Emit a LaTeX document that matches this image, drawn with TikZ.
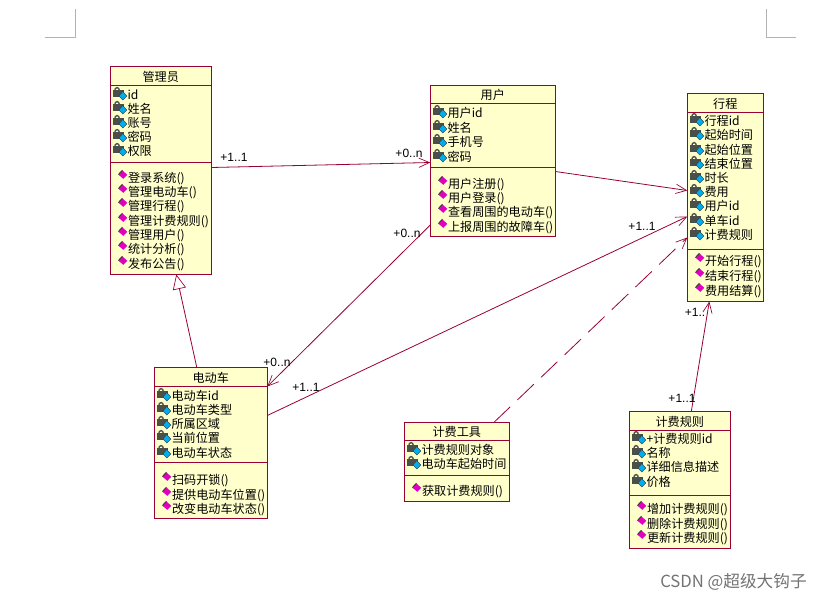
\documentclass[tikz,border=0pt]{standalone}
\usepackage{fontspec}
\setmainfont{Noto Sans CJK SC}
\newfontfamily\multfont{Liberation Sans}
\usetikzlibrary{arrows.meta}
\definecolor{umlline}{HTML}{990033}
\definecolor{umlfill}{HTML}{FFFFCC}
\definecolor{lockgray}{HTML}{4A4F4A}
\definecolor{methmag}{HTML}{E000C0}
\tikzset{
  px/.style={x=0.75pt,y=-0.75pt},
  classbox/.style={draw=umlline,fill=umlfill,line width=0.8pt,anchor=north west,inner sep=0pt,outer sep=0pt},
  divider/.style={draw=umlline,line width=0.8pt},
  titletext/.style={font=\fontsize{9.1}{10}\selectfont,inner sep=0pt,text=black},
  rowtext/.style={font=\fontsize{9.1}{10}\selectfont,inner sep=0pt,anchor=west,text=black},
  assoc/.style={draw=umlline,line width=0.6pt,-{Straight Barb[length=8pt,width=7pt,line width=0.5pt]}},
  depend/.style={assoc,dash pattern=on 17pt off 7.5pt},
  inherit/.style={draw=umlline,line width=0.6pt,-{Triangle[open,fill=white,length=11pt,width=10pt,line width=0.5pt]}},
  mult/.style={font=\multfont\fontsize{9}{10}\selectfont,inner sep=0pt,text=black},
  cropmark/.style={draw=black!30,line width=0.5pt},
}
% #1 x, #2 y: the private-attribute icon
\newcommand{\attricon}[2]{%
  \draw[lockgray,line width=1pt] (#1-3.5,#2-3) arc (180:0:1.7pt and 2.2pt);
  \path[fill=lockgray,draw=lockgray,line width=0.3pt] (#1-5.5,#2-3) rectangle (#1+4.5,#2+2.5);
  \path[fill=cyan,draw=black!80,line width=0.3pt] (#1+4.5,#2-2) -- (#1+8.5,#2+2.5) -- (#1+4.5,#2+6.5) -- (#1+0.5,#2+2.5) -- cycle;
}
% #1 x, #2 y: the method icon
\newcommand{\methicon}[2]{%
  \path[fill=methmag] (#1,#2-4.3) -- (#1+5,#2+0.4) -- (#1+1,#2+4.3) -- (#1-4,#2) -- cycle;
  \draw[green!30!black,line width=0.5pt] (#1-4,#2) -- (#1,#2-4.3);
}
% name, x1, y1, x2, y2, title, title line y, divider y, attribute rows
\newcommand{\umlclass}[9]{%
  \node[classbox,minimum width={(#4-#2)*0.75pt},minimum height={(#5-#3)*0.75pt}] (#1) at (#2,#3) {};
  \node[titletext] (#1-title) at ({(#2+#4)/2},{(#3+#7)/2+0.5}) {#6};
  \draw[divider] (#2,#7) -- (#4,#7);
  \draw[divider] (#2,#8) -- (#4,#8);
  \def\classleft{#2}\def\classname{#1}%
  \umlrows{#9}%
}
\newcommand{\umlrows}[1]{%
  \foreach \ry/\rt [count=\ri] in {#1}{%
    \attricon{\classleft+8}{\ry-1}
    \node[rowtext] (\classname-a\ri) at (\classleft+17,\ry+0.5) {\rt};
  }%
}
\newcommand{\umlmethods}[3]{%
  \foreach \ry/\rt [count=\ri] in {#3}{%
    \methicon{#2+12}{\ry-4}
    \node[rowtext] (#1-m\ri) at (#2+17.5,\ry+0.5) {\rt};
  }%
}
\begin{document}
\begin{tikzpicture}[px]
\useasboundingbox (0,0) rectangle (821,601);
\fill[white] (0,0) rectangle (821,601);
% page corner marks
\coordinate (c1) at (45,37); \coordinate (c2) at (75,37); \coordinate (c3) at (75,9);
\coordinate (c4) at (796,37); \coordinate (c5) at (766,37); \coordinate (c6) at (766,9);
\draw[cropmark] (c1) -- (c2) -- (c3);
\draw[cropmark] (c4) -- (c5) -- (c6);

\begin{scope}[shift={(-0.7,-0.5)}]
\umlclass{admin}{111}{67}{212}{275}{管理员}{86}{163}{95/id,109/姓名,123/账号,137/密码,151/权限}
\umlmethods{admin}{111}{179/登录系统(),193/管理电动车(),207/管理行程(),222/管理计费规则(),236/管理用户(),250/统计分析(),265/发布公告()}

\umlclass{user}{431}{86}{556}{237}{用户}{104}{168}{113/用户id,128/姓名,142/手机号,157/密码}
\umlmethods{user}{431}{185/用户注册(),199/用户登录(),213/查看周围的电动车(),228/上报周围的故障车()}

\umlclass{trip}{688}{94}{764}{302}{行程}{113}{250}{121/行程id,135/起始时间,150/起始位置,164/结束位置,178/时长,192/费用,206/用户id,221/单车id,235/计费规则}
\umlmethods{trip}{688}{262/开始行程(),277/结束行程(),292/费用结算()}

\umlclass{bike}{155}{368}{268}{519}{电动车}{387}{463}{396/电动车id,410/电动车类型,424/所属区域,438/当前位置,453/电动车状态}
\umlmethods{bike}{155}{481/扫码开锁(),496/提供电动车位置(),510/改变电动车状态()}

\umlclass{tool}{405}{423}{510}{502}{计费工具}{441}{476}{450/计费规则对象,464/电动车起始时间}
\umlmethods{tool}{405}{492/获取计费规则()}

\umlclass{rule}{630}{412}{731}{549}{计费规则}{431}{496}{439/+计费规则id,453/名称,467/详细信息描述,482/价格}
\umlmethods{rule}{630}{510/增加计费规则(),525/删除计费规则(),539/更新计费规则()}

% connectors
\draw[assoc] ([shift={(0,-3)}]admin.east) -- ([shift={(0,1.5)}]user.west);
\draw[assoc] ([shift={(0,10.5)}]user.east) -- ([shift={(0,-7)}]trip.west);
\draw[assoc] ([shift={(0,64)}]user.west) -- ([shift={(0,-56.5)}]bike.east);
\draw[assoc] ([shift={(0,-27.5)}]bike.east) -- ([shift={(0,19)}]trip.west);
\draw[depend] ([shift={(37,0)}]tool.north) -- ([shift={(0,40)}]trip.west);
\draw[assoc] ([shift={(11.5,0)}]rule.north) -- ([shift={(-16,0)}]trip.south);
\draw[inherit] ([shift={(42.5,0)}]bike.north west) -- ([shift={(66,0)}]admin.south west);
\end{scope}

% multiplicities
\node[mult] (l1) at (234,157) {+1..1};
\node[mult] (l2) at (409,153) {+0..n};
\node[mult] (l3) at (407,233) {+0..n};
\node[mult] (l4) at (277,362) {+0..n};
\node[mult] (l5) at (306,387) {+1..1};
\node[mult] (l6) at (642,226) {+1..1};
\node[mult] (l7) at (695,312) {+1..};
\node[mult] (l8) at (682,398) {+1..1};

% watermark
\node[font=\fontsize{12.5}{14}\selectfont,text=black!55,anchor=east,inner sep=0pt] (wm) at (807,582) {CSDN @超级大钩子};
\end{tikzpicture}
\end{document}
